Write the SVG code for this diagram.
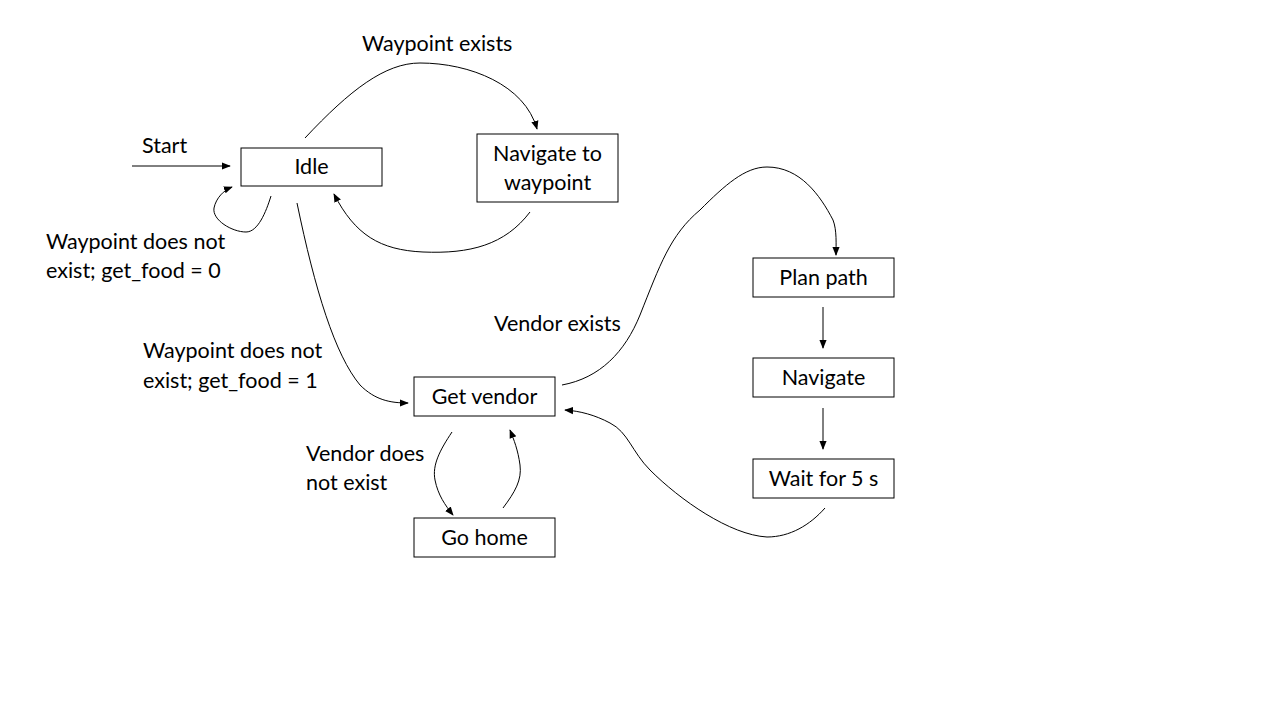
<svg xmlns="http://www.w3.org/2000/svg" width="1280" height="720" viewBox="0 0 1280 720">
<defs>
<style>
.box{fill:#fff;stroke:#000;stroke-width:1}
.t{font-family:Lato,"Liberation Sans",sans-serif;font-size:21.5px;fill:#000}
.c{text-anchor:middle}
.e{fill:none;stroke:#000;stroke-width:1}
</style>
<marker id="a" viewBox="0 0 10 10" refX="9" refY="5" markerWidth="9" markerHeight="9" markerUnits="userSpaceOnUse" orient="auto">
<path d="M0,1 L10,5 L0,9 z" fill="#000"/>
</marker>
</defs>
<rect width="1280" height="720" fill="#fff"/>
<g id="idle"><rect class="box" x="241" y="148" width="141" height="38"/><text class="t c" x="311.5" y="174">Idle</text></g>
<g id="navwp"><rect class="box" x="477" y="134" width="141" height="68"/><text class="t c" x="547.5" y="161">Navigate to</text><text class="t c" x="547.5" y="190">waypoint</text></g>
<g id="plan"><rect class="box" x="753" y="258" width="141" height="39"/><text class="t c" x="823.5" y="285">Plan path</text></g>
<g id="nav"><rect class="box" x="753" y="358" width="141" height="39"/><text class="t c" x="823.5" y="385">Navigate</text></g>
<g id="wait"><rect class="box" x="753" y="459" width="141" height="39"/><text class="t c" x="823.5" y="486">Wait for 5 s</text></g>
<g id="getv"><rect class="box" x="414" y="377" width="141" height="39"/><text class="t c" x="484.5" y="404">Get vendor</text></g>
<g id="home"><rect class="box" x="414" y="518" width="141" height="39"/><text class="t c" x="484.5" y="545">Go home</text></g>
<g id="connectors">
<path class="e" d="M132,166 L230,166" marker-end="url(#a)"/>
<path class="e" d="M271,196 C266,212 258,232 246,232 C232,232 212,220 214,208 C216,198 224,190 232,187" marker-end="url(#a)"/>
<path class="e" d="M305,138 C350,90 385,63 420,63 C470,63 525,85 537,129" marker-end="url(#a)"/>
<path class="e" d="M530,212 C505,245 470,254 423,252 C380,250 355,235 334,194" marker-end="url(#a)"/>
<path class="e" d="M297,203 C315,290 335,355 360,385 C375,400 390,403 408,403" marker-end="url(#a)"/>
<path class="e" d="M562,385 C600,378 625,352 640,315 C660,265 670,235 700,210 C725,185 745,167 767,167 C800,167 820,195 833,220 C837,230 836,245 836,255" marker-end="url(#a)"/>
<path class="e" d="M823,307 L823,348" marker-end="url(#a)"/>
<path class="e" d="M823,408 L823,449" marker-end="url(#a)"/>
<path class="e" d="M825,508 C810,525 790,537 767,537 C730,535 680,500 650,470 C632,452 628,432 610,423 C595,415 580,411 565,410" marker-end="url(#a)"/>
<path class="e" d="M452,432 C440,450 432,465 435,480 C438,495 445,505 453,515" marker-end="url(#a)"/>
<path class="e" d="M503,508 C515,492 522,480 520,465 C518,450 514,440 510,430" marker-end="url(#a)"/>
</g>
<g id="labels">
<text class="t" x="362" y="51">Waypoint exists</text>
<text class="t" x="142" y="153">Start</text>
<text class="t" x="46" y="249">Waypoint does not</text>
<text class="t" x="46" y="278">exist; get_food = 0</text>
<text class="t" x="143" y="358">Waypoint does not</text>
<text class="t" x="143" y="388">exist; get_food = 1</text>
<text class="t" x="494" y="331">Vendor exists</text>
<text class="t" x="306" y="461">Vendor does</text>
<text class="t" x="306" y="490">not exist</text>
</g>
</svg>
